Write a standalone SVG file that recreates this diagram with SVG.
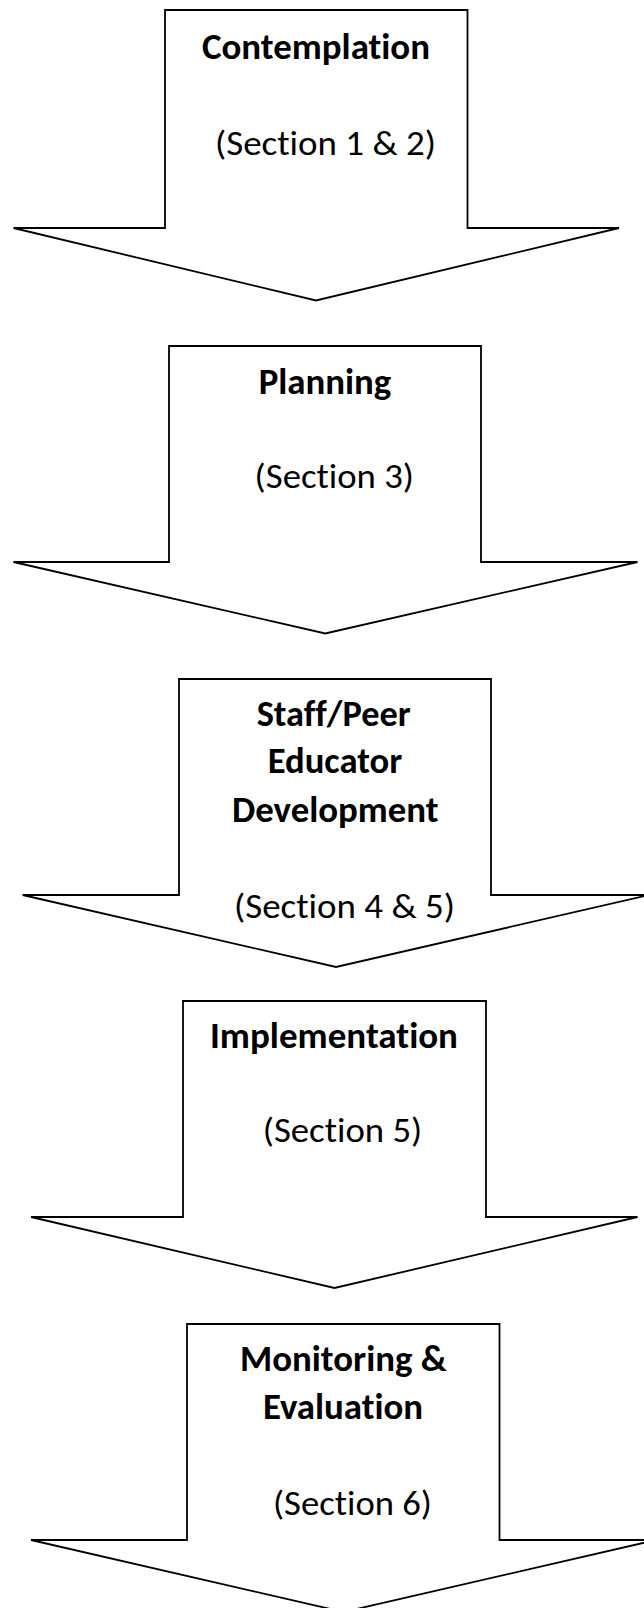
<svg xmlns="http://www.w3.org/2000/svg" width="644" height="1608" viewBox="0 0 644 1608">
<style>
.arrow{fill:#ffffff;stroke:#000000;stroke-width:1.8;stroke-linejoin:miter}
.t{font-family:Calibri,Carlito,Lato,"Liberation Sans",sans-serif;font-size:34px;fill:#000000;text-anchor:middle;font-variant-ligatures:none;font-feature-settings:"liga" 0}
.b{font-weight:bold;font-size:36px}
</style>
<rect x="0" y="0" width="644" height="1608" fill="#ffffff"/>
<g id="connectors"></g>
<g id="contemplation">
<polygon class="arrow" points="165,10 467.5,10 467.5,228 619,228 316,300.5 13.5,228 165,228"/>
<text class="t b" x="316" y="59" textLength="228" lengthAdjust="spacingAndGlyphs">Contemplation</text>
<text class="t" x="325.5" y="155" textLength="221" lengthAdjust="spacingAndGlyphs">(Section 1 &amp; 2)</text>
</g>
<g id="planning">
<polygon class="arrow" points="169,346 481,346 481,562 637.5,562 325.3,633.5 13.5,562 169,562"/>
<text class="t b" x="325" y="394" textLength="132.7" lengthAdjust="spacingAndGlyphs">Planning</text>
<text class="t" x="334.3" y="488" textLength="159.4" lengthAdjust="spacingAndGlyphs">(Section 3)</text>
</g>
<g id="development">
<polygon class="arrow" points="179,679 491,679 491,895 649,895 336,967 22.6,895 179,895"/>
<text class="t b" x="333.7" y="726" textLength="154" lengthAdjust="spacingAndGlyphs">Staff/Peer</text>
<text class="t b" x="335" y="773.3" textLength="134.7" lengthAdjust="spacingAndGlyphs">Educator</text>
<text class="t b" x="335.3" y="821.7" textLength="206.6" lengthAdjust="spacingAndGlyphs">Development</text>
<text class="t" x="344.5" y="918.3" textLength="221" lengthAdjust="spacingAndGlyphs">(Section 4 &amp; 5)</text>
</g>
<g id="implementation">
<polygon class="arrow" points="183,1001 486,1001 486,1217 637.5,1217 334.5,1288 31,1217 183,1217"/>
<text class="t b" x="334" y="1048.3" textLength="248" lengthAdjust="spacingAndGlyphs">Implementation</text>
<text class="t" x="342.5" y="1141.7" textLength="159.4" lengthAdjust="spacingAndGlyphs">(Section 5)</text>
</g>
<g id="monitoring">
<polygon class="arrow" points="187,1324 499.5,1324 499.5,1540 656,1540 343.5,1612 31,1540 187,1540"/>
<text class="t b" x="343.4" y="1370.7" textLength="206.8" lengthAdjust="spacingAndGlyphs">Monitoring &amp;</text>
<text class="t b" x="343" y="1419.3" textLength="160.2" lengthAdjust="spacingAndGlyphs">Evaluation</text>
<text class="t" x="352.5" y="1515" textLength="159" lengthAdjust="spacingAndGlyphs">(Section 6)</text>
</g>
</svg>
